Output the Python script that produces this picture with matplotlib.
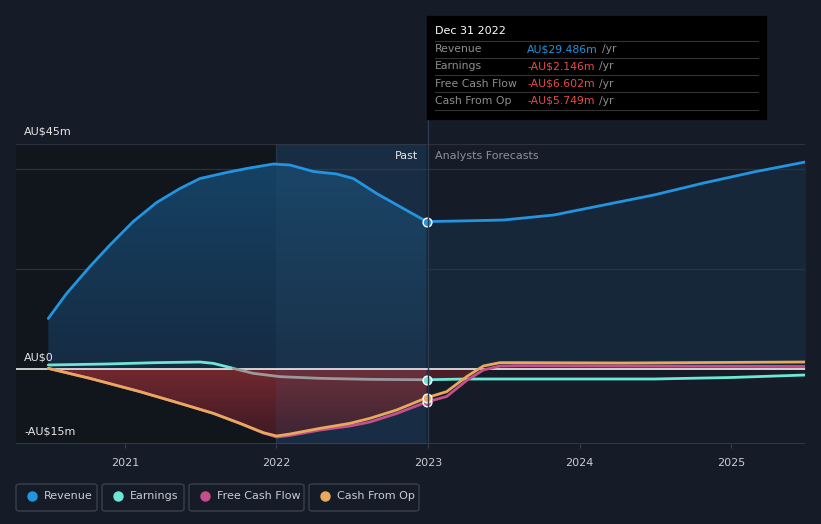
import numpy as np
from matplotlib import pyplot as plt
from matplotlib.patches import FancyBboxPatch, Rectangle
from matplotlib.colors import LinearSegmentedColormap

# data (decimal years, AU$m)
rev_x = [2020.494, 2020.615, 2020.769, 2020.901, 2021.055, 2021.209, 2021.363, 2021.495,
         2021.671, 2021.803, 2021.979, 2022.089, 2022.243, 2022.397, 2022.507, 2022.661,
         2022.837, 2022.991]
rev_y = [10.1, 15.1, 20.5, 24.8, 29.5, 33.3, 36.1, 38.1, 39.3, 40.1, 41.0, 40.8, 39.5,
         39.0, 38.1, 35.1, 32.1, 29.486]
rev_fx = [2022.991, 2023.20, 2023.50, 2023.83, 2024.16, 2024.49, 2024.82, 2025.15, 2025.49]
rev_fy = [29.486, 29.6, 29.8, 30.8, 32.8, 34.8, 37.2, 39.4, 41.4]

earn_x = [2020.494, 2020.879, 2021.209, 2021.495, 2021.583, 2021.715, 2021.847, 2022.023,
          2022.287, 2022.617, 2022.991]
earn_y = [0.8, 1.0, 1.27, 1.4, 1.13, 0.13, -0.87, -1.53, -1.87, -2.07, -2.146]
earn_fx = [2022.991, 2023.255, 2023.607, 2024.49, 2025.0, 2025.49]
earn_fy = [-2.146, -2.0, -2.0, -2.0, -1.7, -1.2]

cfo_x = [2020.494, 2020.769, 2021.099, 2021.363, 2021.583, 2021.759, 2021.913, 2022.001,
         2022.089, 2022.287, 2022.485, 2022.617, 2022.793, 2022.991]
cfo_y = [0.13, -1.87, -4.53, -6.87, -8.87, -10.87, -12.73, -13.4, -13.0, -11.87, -10.87,
         -9.87, -8.2, -5.749]
cfo_fx = [2022.991, 2023.123, 2023.255, 2023.365, 2023.475, 2023.607, 2024.29, 2025.49]
cfo_fy = [-5.749, -4.53, -1.53, 0.6, 1.27, 1.27, 1.2, 1.4]

fcf_x = [2020.494, 2020.769, 2021.099, 2021.363, 2021.583, 2021.759, 2021.913, 2022.001,
         2022.089, 2022.287, 2022.485, 2022.617, 2022.793, 2022.991]
fcf_y = [0.13, -1.87, -4.53, -6.87, -8.87, -10.87, -12.8, -13.6, -13.3, -12.2, -11.4,
         -10.6, -8.9, -6.602]
fcf_fx = [2022.991, 2023.123, 2023.255, 2023.365, 2023.475, 2023.607, 2024.29, 2025.49]
fcf_fy = [-6.602, -5.5, -2.3, -0.2, 0.6, 0.67, 0.6, 0.5]

years = [2021, 2022, 2023, 2024, 2025]
legend_names = ['Revenue', 'Earnings', 'Free Cash Flow', 'Cash From Op']

bg = '#161c27'
c_rev, c_earn, c_fcf, c_cfo = '#2394df', '#6ee7d6', '#c64e8c', '#e8a95c'
W, H = 821, 524

fig = plt.figure(figsize=(W / 100, H / 100), dpi=100)
fig.patch.set_facecolor(bg)

def px(x0, y0, w, h):
    return [x0 / W, 1 - (y0 + h) / H, w / W, h / H]

ax = fig.add_axes(px(16, 144, 789, 300))
ax.set_facecolor(bg)
ax.set_xlim(2020.281, 2025.488)
ax.set_ylim(-15, 45)
for s in ax.spines.values():
    s.set_visible(False)

# past shading
ax.axvspan(2020.281, 2022.0, color='#11151c', zorder=0)
ax.axvspan(2022.0, 2022.99, color='#13263a', zorder=0)
ax.axvline(2022.0, color='#1f3348', lw=0.8, zorder=0.5)

for g in [45, 40, 20]:
    ax.axhline(g, color='#2c323d', lw=0.9, zorder=1)
ax.axhline(-15, color='#3a404b', lw=1.2, zorder=1)

# revenue fill with vertical gradient (past), flat in forecast
grad = np.linspace(1, 0, 256).reshape(-1, 1)
poly = ax.fill_between(rev_x, rev_y, 0, color='none', lw=0, zorder=1.5)
img = ax.imshow(grad, extent=[2020.281, 2025.488, 0, 45], aspect='auto',
                cmap=LinearSegmentedColormap.from_list('rv', ['#152b42', '#164468']), zorder=1.5)
img.set_clip_path(poly.get_paths()[0], transform=ax.transData)
ax.fill_between(rev_fx, rev_fy, 0, color='#1b3a58', alpha=0.4, lw=0, zorder=1.5)

# negative fills
poly2 = ax.fill_between(cfo_x, cfo_y, 0, color='none', lw=0, zorder=1.6)
img2 = ax.imshow(grad, extent=[2020.281, 2025.488, -15, 0], aspect='auto',
                 cmap=LinearSegmentedColormap.from_list('rd', ['#3d1a24', '#7e2a31']),
                 alpha=0.9, zorder=1.6)
img2.set_clip_path(poly2.get_paths()[0], transform=ax.transData)
ax.fill_between(cfo_fx, np.maximum(cfo_fy, earn_fy[1]), 0, where=np.array(cfo_fy) < 0,
                interpolate=True, color='#5a1f28', alpha=0.8, lw=0, zorder=1.6)
ax.fill_between(fcf_fx, fcf_fy, 0, where=np.array(fcf_fy) > 0, interpolate=True,
                color='#5a2a40', alpha=0.6, lw=0, zorder=1.6)
ax.axvspan(2022.0, 2022.99, color='#3a5a7a', alpha=0.15, lw=0, zorder=1.7)

ax.axhline(0, color='#ffffff', lw=1.1, zorder=2)

# lines
kw = dict(lw=2.0, solid_capstyle='round', solid_joinstyle='round')
ax.plot(rev_x, rev_y, color=c_rev, zorder=4, **kw)
ax.plot(rev_fx, rev_fy, color=c_rev, zorder=4, **kw)
ax.plot(earn_x[:6], earn_y[:6], color=c_earn, zorder=3, **kw)
ax.plot(earn_x[5:], earn_y[5:], color='#9a9a9a', zorder=3, **kw)
ax.plot(earn_fx, earn_fy, color=c_earn, zorder=3, **kw)
ax.plot(fcf_x, fcf_y, color=c_fcf, zorder=3.2, **kw)
ax.plot(fcf_fx, fcf_fy, color=c_fcf, zorder=3.2, **kw)
ax.plot(cfo_x, cfo_y, color=c_cfo, zorder=3.4, **kw)
ax.plot(cfo_fx, cfo_fy, color=c_cfo, zorder=3.4, **kw)

for yv, c in [(rev_y[-1], c_rev), (earn_y[-1], c_earn), (fcf_y[-1], c_fcf), (cfo_y[-1], c_cfo)]:
    ax.scatter([2022.991], [yv], s=40, color=c, edgecolor='white', lw=1, zorder=6)

ax.set_xticks(years)
ax.set_xticklabels([str(y) for y in years], color='#c8ccd2', fontsize=8)
ax.tick_params(axis='x', length=3, color='#3a404b', pad=7)
ax.set_yticks([])

# vertical marker at last actual
fig.add_artist(plt.Line2D([428 / W, 428 / W], [1 - 444 / H, 1 - 118 / H], color='#2c3a4c', lw=1))

# y labels
fig.text(24 / W, 1 - 132 / H, 'AU$45m', color='#e6e6e6', fontsize=8, va='center')
fig.text(24 / W, 1 - 357 / H, 'AU$0', color='#e6e6e6', fontsize=8, va='center')
fig.text(24 / W, 1 - 432 / H, '-AU$15m', color='#e6e6e6', fontsize=8, va='center')
fig.text(418 / W, 1 - 156 / H, 'Past', color='#e6e6e6', fontsize=8, va='center', ha='right')
fig.text(435 / W, 1 - 156 / H, 'Analysts Forecasts', color='#8a8f98', fontsize=8, va='center')

# tooltip
fig.add_artist(Rectangle((427 / W, 1 - 119 / H), 339 / W, 103 / H, color='#000000', zorder=5))
fig.text(435 / W, 1 - 31 / H, 'Dec 31 2022', color='#ffffff', fontsize=8, va='center', zorder=6)
rows = [('Revenue', 'AU$29.486m', '#2394df'), ('Earnings', '-AU$2.146m', '#e64b4b'),
        ('Free Cash Flow', '-AU$6.602m', '#e64b4b'), ('Cash From Op', '-AU$5.749m', '#e64b4b')]
renderer = fig.canvas.get_renderer()
for i, (name, val, col) in enumerate(rows):
    yy = 49 + i * 17.3
    fig.add_artist(plt.Line2D([435 / W, 758 / W], [1 - (yy - 8.5) / H] * 2, color='#333333', lw=0.8, zorder=6))
    fig.text(435 / W, 1 - yy / H, name, color='#8e8e8e', fontsize=7.8, va='center', zorder=6)
    t = fig.text(527 / W, 1 - yy / H, val, color=col, fontsize=7.8, va='center', zorder=6)
    x_end = t.get_window_extent(renderer).x1
    fig.text((x_end + 4) / W, 1 - yy / H, '/yr', color='#8e8e8e', fontsize=7.8, va='center', zorder=6)
fig.add_artist(plt.Line2D([435 / W, 758 / W], [1 - 110 / H] * 2, color='#333333', lw=0.8, zorder=6))

# legend boxes
boxes = [(16, 81), (102, 82), (189, 115), (309, 110)]
for (x0, w), name, c in zip(boxes, legend_names, [c_rev, c_earn, c_fcf, c_cfo]):
    fig.add_artist(FancyBboxPatch((x0 / W, 1 - 511 / H), w / W, 27 / H,
                                  boxstyle='round,pad=0,rounding_size=0.004',
                                  fc=bg, ec='#3a404b', lw=1, transform=fig.transFigure))
    fig.add_artist(plt.Line2D([(x0 + 16) / W], [1 - 496 / H], marker='o', ms=6.5, color=c, lw=0))
    fig.text((x0 + 28) / W, 1 - 496 / H, name, color='#c8ccd2', fontsize=8, va='center')

fig.savefig('out.png', dpi=100, facecolor=bg)
